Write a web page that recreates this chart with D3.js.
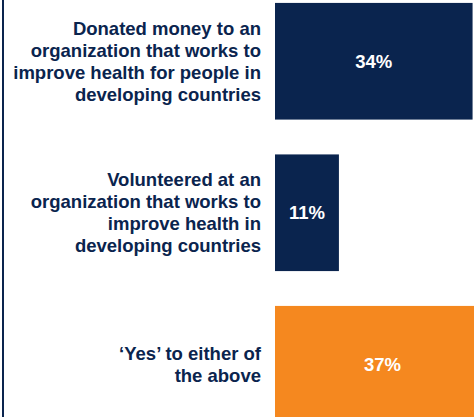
<!DOCTYPE html>
<html><head><meta charset="utf-8">
<script src="https://cdn.jsdelivr.net/npm/d3@7"></script>
<style>html,body{margin:0;padding:0;background:#fff;overflow:hidden}</style>
</head><body>
<svg id="c" width="474" height="417"></svg>
<script>
const categories = [
  ["Donated money to an","organization that works to","improve health for people in","developing countries"],
  ["Volunteered at an","organization that works to","improve health in","developing countries"],
  ["\u2018Yes\u2019 to either of","the above"]
];
const values = [34, 11, 37];
const colors = ["#0a244e", "#0a244e", "#f5881f"];

const svg = d3.select("#c");
const x = d3.scaleLinear().domain([0, 37]).range([275, 490]);
const y = d3.scaleBand().domain(d3.range(values.length)).range([-14.5, 440]).paddingInner(0.23).paddingOuter(0.115);

svg.selectAll("rect.bar").data(values).join("rect")
  .attr("x", x(0)).attr("y", (d,i)=>y(i))
  .attr("width", d=>x(d)-x(0)).attr("height", y.bandwidth())
  .attr("fill", (d,i)=>colors[i]);

svg.selectAll("text.val").data(values).join("text")
  .attr("x", d=>(x(0)+x(d))/2).attr("y", (d,i)=>y(i)+y.bandwidth()/2)
  .attr("dy","0.35em").attr("text-anchor","middle")
  .attr("font-family","'Liberation Sans', Arial, sans-serif").attr("font-weight","bold")
  .attr("font-size",18.5).attr("fill","#fff")
  .text(d=>d+"%");

const lh = 22;
categories.forEach((lines,i)=>{
  const cy = y(i)+y.bandwidth()/2;
  const t = svg.append("text")
    .attr("text-anchor","end")
    .attr("font-family","'Liberation Sans', Arial, sans-serif").attr("font-weight","bold")
    .attr("font-size",18.5).attr("fill","#0a244e");
  lines.forEach((l,j)=>{
    t.append("tspan").attr("x",261).attr("y", cy + (j-(lines.length-1)/2)*lh).attr("dy","0.35em").text(l);
  });
});

svg.append("line").attr("x1",3).attr("x2",3).attr("y1",0).attr("y2",417)
  .attr("stroke","#0a244e").attr("stroke-width",2);
</script>
</body></html>
